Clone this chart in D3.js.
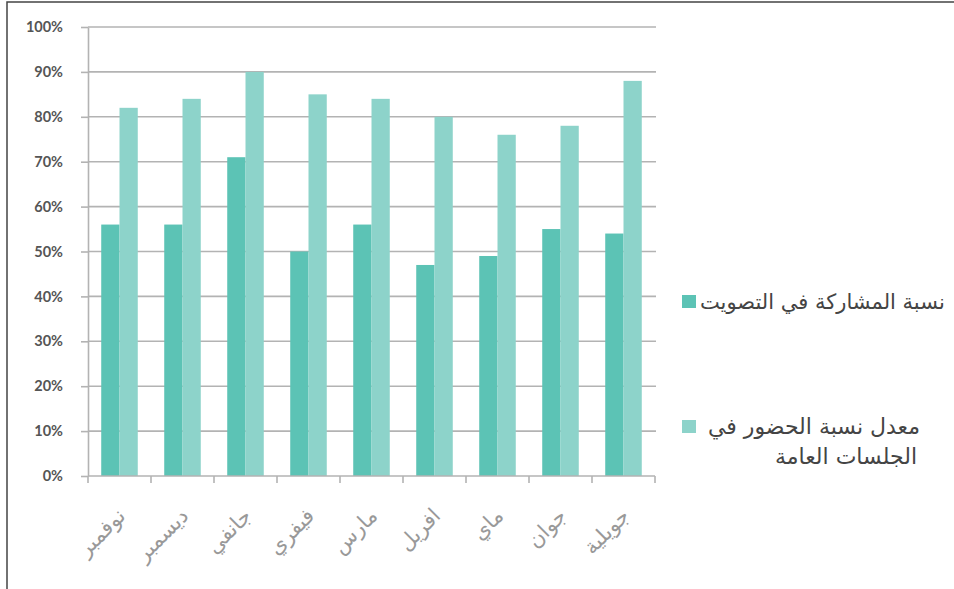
<html>
<head>
<meta charset="utf-8">
<script src="https://d3js.org/d3.v7.min.js"></script>
<style>
  body { margin: 0; background: #fff; }
  text { font-family: "DejaVu Sans", sans-serif; }
</style>
</head>
<body>
<div id="chart"></div>
<script>
// months (x categories)
var months = ["نوفمبر", "ديسمبر", "جانفي", "فيفري", "مارس", "افريل", "ماي", "جوان", "جويلية"];
// series
var voting = [56, 56, 71, 50, 56, 47, 49, 55, 54];
var attendance = [82, 84, 90, 85, 84, 80, 76, 78, 88];
var seriesNames = ["نسبة المشاركة في التصويت", "معدل نسبة الحضور في الجلسات العامة"];
var yTicks = [0, 10, 20, 30, 40, 50, 60, 70, 80, 90, 100];

var width = 954, height = 589;
var colors = ["#5cc3b5", "#8dd3ca"];

var svg = d3.select("#chart").append("svg")
  .attr("width", width).attr("height", height);

// frame
svg.append("rect").attr("x", 7).attr("y", 2).attr("width", 960).attr("height", 600)
  .attr("fill", "none").attr("stroke", "#444").attr("stroke-width", 1.5);

var plotLeft = 88, plotRight = 655, plotTop = 27, plotBottom = 476;

var y = d3.scaleLinear().domain([0, 100]).range([plotBottom, plotTop]);
var x0 = d3.scaleBand().domain(months).range([plotLeft, plotRight])
  .paddingInner(0.42).paddingOuter(0.21);
var x1 = d3.scaleBand().domain([0, 1]).range([0, x0.bandwidth()]);

// gridlines
svg.append("g").selectAll("line").data(yTicks.slice(1)).enter().append("line")
  .attr("x1", plotLeft).attr("x2", plotRight + 1)
  .attr("y1", function(d){ return y(d); }).attr("y2", function(d){ return y(d); })
  .attr("stroke", "#b3b3b3").attr("stroke-width", 1.6);

// y axis
var yAxis = svg.append("g").attr("transform", "translate(" + plotLeft + ",0)")
  .call(d3.axisLeft(y).tickValues(yTicks).tickSize(7).tickSizeOuter(0).tickPadding(18)
    .tickFormat(function(d){ return d + "%"; }));
yAxis.select(".domain").attr("stroke", "#b3b3b3").attr("stroke-width", 1.6);
yAxis.selectAll(".tick line").attr("stroke", "#b3b3b3").attr("stroke-width", 1.6);
yAxis.selectAll(".tick text").attr("fill", "#555").style("font-size", "14.5px")
  .style("font-weight", "bold").style("font-family", "Lato, sans-serif");

// bars
var groups = svg.append("g").selectAll("g").data(months).enter().append("g")
  .attr("transform", function(d){ return "translate(" + x0(d) + ",0)"; });
groups.selectAll("rect").data(function(d, i){ return [voting[i], attendance[i]]; })
  .enter().append("rect")
  .attr("x", function(d, j){ return x1(j); })
  .attr("y", function(d){ return y(d); })
  .attr("width", x1.bandwidth())
  .attr("height", function(d){ return plotBottom - y(d); })
  .attr("fill", function(d, j){ return colors[j]; });

// x axis line + ticks at category boundaries
var half = (x0.step() - x0.bandwidth()) / 2;
var bounds = months.map(function(m){ return x0(m) - half; });
bounds.push(x0(months[months.length - 1]) + x0.bandwidth() + half);
var xAxis = svg.append("g");
xAxis.append("line").attr("x1", plotLeft).attr("x2", plotRight).attr("y1", plotBottom).attr("y2", plotBottom)
  .attr("stroke", "#b3b3b3").attr("stroke-width", 1.6);
xAxis.selectAll("line.tk").data(bounds).enter().append("line").attr("class", "tk")
  .attr("x1", function(d){ return d; }).attr("x2", function(d){ return d; })
  .attr("y1", plotBottom).attr("y2", plotBottom + 7)
  .attr("stroke", "#b3b3b3").attr("stroke-width", 1.6);
xAxis.selectAll("text").data(months).enter().append("text")
  .attr("transform", function(d){
    return "translate(" + (x0(d) + x0.bandwidth() / 2 + 2) + "," + (plotBottom + 36) + ") rotate(-45)";
  })
  .attr("text-anchor", "end").attr("dy", "0.35em")
  .attr("fill", "#999").style("font-size", "21px")
  .text(function(d){ return d; });

// legend
var legend = svg.append("g");
legend.append("rect").attr("x", 682).attr("y", 295).attr("width", 14).attr("height", 13).attr("fill", colors[0]);
legend.append("text").attr("x", 700).attr("y", 309).attr("fill", "#444")
  .style("font-size", "21px").text(seriesNames[0]);
legend.append("rect").attr("x", 682).attr("y", 420).attr("width", 14).attr("height", 13).attr("fill", colors[1]);
legend.append("text").attr("x", 920).attr("y", 434).attr("text-anchor", "end").attr("fill", "#444")
  .style("font-size", "22px").text("معدل نسبة الحضور في");
legend.append("text").attr("x", 917).attr("y", 464).attr("text-anchor", "end").attr("fill", "#444")
  .style("font-size", "22px").text("الجلسات العامة");
</script>
</body>
</html>
